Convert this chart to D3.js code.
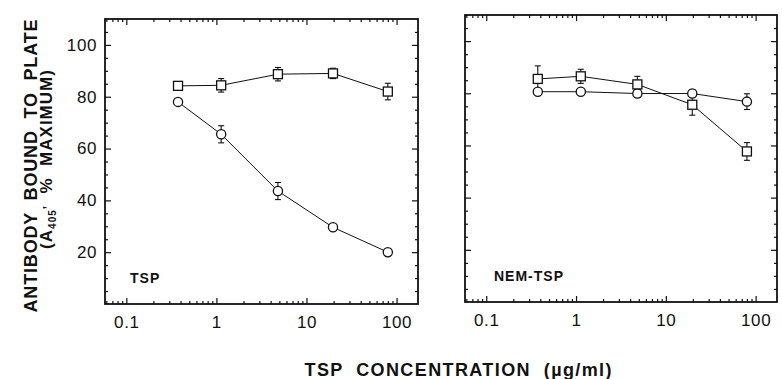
<!DOCTYPE html>
<html>
<head>
<meta charset="utf-8">
<script src="https://cdn.jsdelivr.net/npm/d3@7"></script>
<style>
    body { margin: 0; background: #fff; }
    svg { display: block; font-family: "Liberation Sans", Arial, sans-serif; }
    text { white-space: pre; }
</style>
</head>
<body>
<svg id="chart" width="782" height="379"></svg>
<script>
/*************************************************************************/

// TSP concentration (ug/ml), same for both panels
const conc = [0.375, 1.13, 4.82, 19.7, 80];

// left panel : TSP
const tspSquare    = [84.2, 84.4, 88.7, 89.0, 82.0];
const tspSquareErr = [0, 2.6, 2.6, 2.0, 3.2];
const tspCircle    = [78.0, 65.5, 43.6, 29.6, 20.0];
const tspCircleErr = [0, 3.3, 3.3, 0, 0];

// right panel : NEM-TSP
const nemSquare    = [85.5, 86.5, 83.4, 75.6, 57.7];
const nemSquareErr = [5.0, 2.7, 3.1, 4.0, 3.4];
const nemCircle    = [80.6, 80.6, 79.9, 79.9, 76.8];
const nemCircleErr = [0, 0, 1.5, 1.5, 3.0];

const xMajor = [0.1, 1, 10, 100];
const yMajor = [20, 40, 60, 80, 100];

/*************************************************************************/

const panels = [
    { label: 'TSP', box: [105, 19, 418, 304], yLabels: true,
      sq: tspSquare, sqErr: tspSquareErr, ci: tspCircle, ciErr: tspCircleErr },
    { label: 'NEM-TSP', box: [465, 15, 777, 302], yLabels: false,
      sq: nemSquare, sqErr: nemSquareErr, ci: nemCircle, ciErr: nemCircleErr }
];

const svg = d3.select('#chart');
const FONT = '"Liberation Sans", Arial, sans-serif';

/*************************************************************************/

function drawPanel(p){
    const [x0, y0, x1, y1] = p.box;
    const x = d3.scaleLog().domain([0.058, 173]).range([x0, x1]);
    const y = d3.scaleLinear().domain([0, 110]).range([y1, y0]);

    const g = svg.append('g');
    const xMinor = x.ticks().filter(d => !xMajor.some(m => Math.abs(m - d) < 1e-9));
    const yMinor = d3.range(5, 110, 5).filter(d => d % 20 !== 0);

    const clean = a => a.call(s => s.select('.domain').remove())
        .call(s => s.selectAll('line').attr('stroke', '#111').attr('stroke-width', 1.2));
    const label = a => a.selectAll('text')
        .attr('font-size', 17).attr('fill', '#111')
        .attr('letter-spacing', 0.6).attr('font-family', FONT);

    // bottom + top ticks, pointing inward
    g.append('g').attr('transform', `translate(0,${y1})`)
        .call(d3.axisBottom(x).tickValues(xMajor).tickSize(-6).tickPadding(12)
            .tickFormat(d => d < 1 ? '0.1' : d3.format('d')(d)))
        .call(clean)
        .call(label);
    g.append('g').attr('transform', `translate(0,${y1})`)
        .call(d3.axisBottom(x).tickValues(xMinor).tickSize(-3).tickFormat(''))
        .call(clean);
    g.append('g').attr('transform', `translate(0,${y0})`)
        .call(d3.axisTop(x).tickValues(xMajor).tickSize(-6).tickFormat(''))
        .call(clean);
    g.append('g').attr('transform', `translate(0,${y0})`)
        .call(d3.axisTop(x).tickValues(xMinor).tickSize(-3).tickFormat(''))
        .call(clean);

    // left + right ticks
    g.append('g').attr('transform', `translate(${x0},0)`)
        .call(d3.axisLeft(y).tickValues(yMajor).tickSize(-6).tickPadding(8)
            .tickFormat(p.yLabels ? d3.format('d') : ''))
        .call(clean)
        .call(label);
    g.append('g').attr('transform', `translate(${x0},0)`)
        .call(d3.axisLeft(y).tickValues(yMinor).tickSize(-3).tickFormat(''))
        .call(clean);
    g.append('g').attr('transform', `translate(${x1},0)`)
        .call(d3.axisRight(y).tickValues(yMajor).tickSize(-6).tickFormat(''))
        .call(clean);
    g.append('g').attr('transform', `translate(${x1},0)`)
        .call(d3.axisRight(y).tickValues(yMinor).tickSize(-3).tickFormat(''))
        .call(clean);

    // frame
    g.append('rect')
        .attr('x', x0).attr('y', y0)
        .attr('width', x1 - x0).attr('height', y1 - y0)
        .attr('fill', 'none').attr('stroke', '#111').attr('stroke-width', 1.8);

    const line = d3.line().x(d => x(d.c)).y(d => y(d.v));
    const sq = conc.map((c, i) => ({ c: c, v: p.sq[i], e: p.sqErr[i] }));
    const ci = conc.map((c, i) => ({ c: c, v: p.ci[i], e: p.ciErr[i] }));

    [ci, sq].forEach(data => {
        g.append('path').datum(data)
            .attr('d', line)
            .attr('fill', 'none').attr('stroke', '#111').attr('stroke-width', 1);

        // error bars
        const eb = g.append('g').selectAll('g')
            .data(data.filter(d => d.e > 0))
            .enter().append('g')
            .attr('stroke', '#111').attr('stroke-width', 1.1);
        eb.append('line')
            .attr('x1', d => x(d.c)).attr('x2', d => x(d.c))
            .attr('y1', d => y(d.v + d.e)).attr('y2', d => y(d.v - d.e));
        eb.append('line')
            .attr('x1', d => x(d.c) - 3).attr('x2', d => x(d.c) + 3)
            .attr('y1', d => y(d.v + d.e)).attr('y2', d => y(d.v + d.e));
        eb.append('line')
            .attr('x1', d => x(d.c) - 3).attr('x2', d => x(d.c) + 3)
            .attr('y1', d => y(d.v - d.e)).attr('y2', d => y(d.v - d.e));
    });

    // markers
    g.append('g').selectAll('circle')
        .data(ci)
        .enter().append('circle')
        .attr('cx', d => x(d.c)).attr('cy', d => y(d.v)).attr('r', 4.6)
        .attr('fill', '#fff').attr('stroke', '#111').attr('stroke-width', 1.3);

    g.append('g').selectAll('rect')
        .data(sq)
        .enter().append('rect')
        .attr('x', d => x(d.c) - 4.5).attr('y', d => y(d.v) - 4.5)
        .attr('width', 9).attr('height', 9)
        .attr('fill', '#fff').attr('stroke', '#111').attr('stroke-width', 1.3);

    g.append('text')
        .attr('x', x0 + (p.yLabels ? 25 : 29)).attr('y', y1 - 21)
        .attr('font-size', 14).attr('font-weight', 'bold')
        .attr('letter-spacing', 1).attr('fill', '#111')
        .text(p.label);
}

panels.forEach(drawPanel);

/*************************************************************************/

// axis titles
svg.append('text')
    .attr('transform', 'translate(37,166) rotate(-90)')
    .attr('text-anchor', 'middle')
    .attr('font-size', 18).attr('font-weight', 'bold').attr('fill', '#111')
    .attr('textLength', 293).attr('lengthAdjust', 'spacing')
    .text('ANTIBODY  BOUND  TO  PLATE');

const t2 = svg.append('text')
    .attr('transform', 'translate(52,159) rotate(-90)')
    .attr('text-anchor', 'middle')
    .attr('font-size', 17).attr('font-weight', 'bold').attr('fill', '#111')
    .attr('letter-spacing', 1);
t2.append('tspan').text('(A');
t2.append('tspan').attr('font-size', 10).attr('dy', 4).text('405');
t2.append('tspan').attr('font-size', 12).attr('dy', -4).text('\u2019');
t2.append('tspan').text('  %  MAXIMUM)');

svg.append('text')
    .attr('x', 458).attr('y', 376)
    .attr('text-anchor', 'middle')
    .attr('font-size', 18).attr('font-weight', 'bold').attr('fill', '#111')
    .attr('textLength', 307).attr('lengthAdjust', 'spacing')
    .text('TSP  CONCENTRATION  (\u00b5g/ml)');

/*************************************************************************/
</script>
</body>
</html>
